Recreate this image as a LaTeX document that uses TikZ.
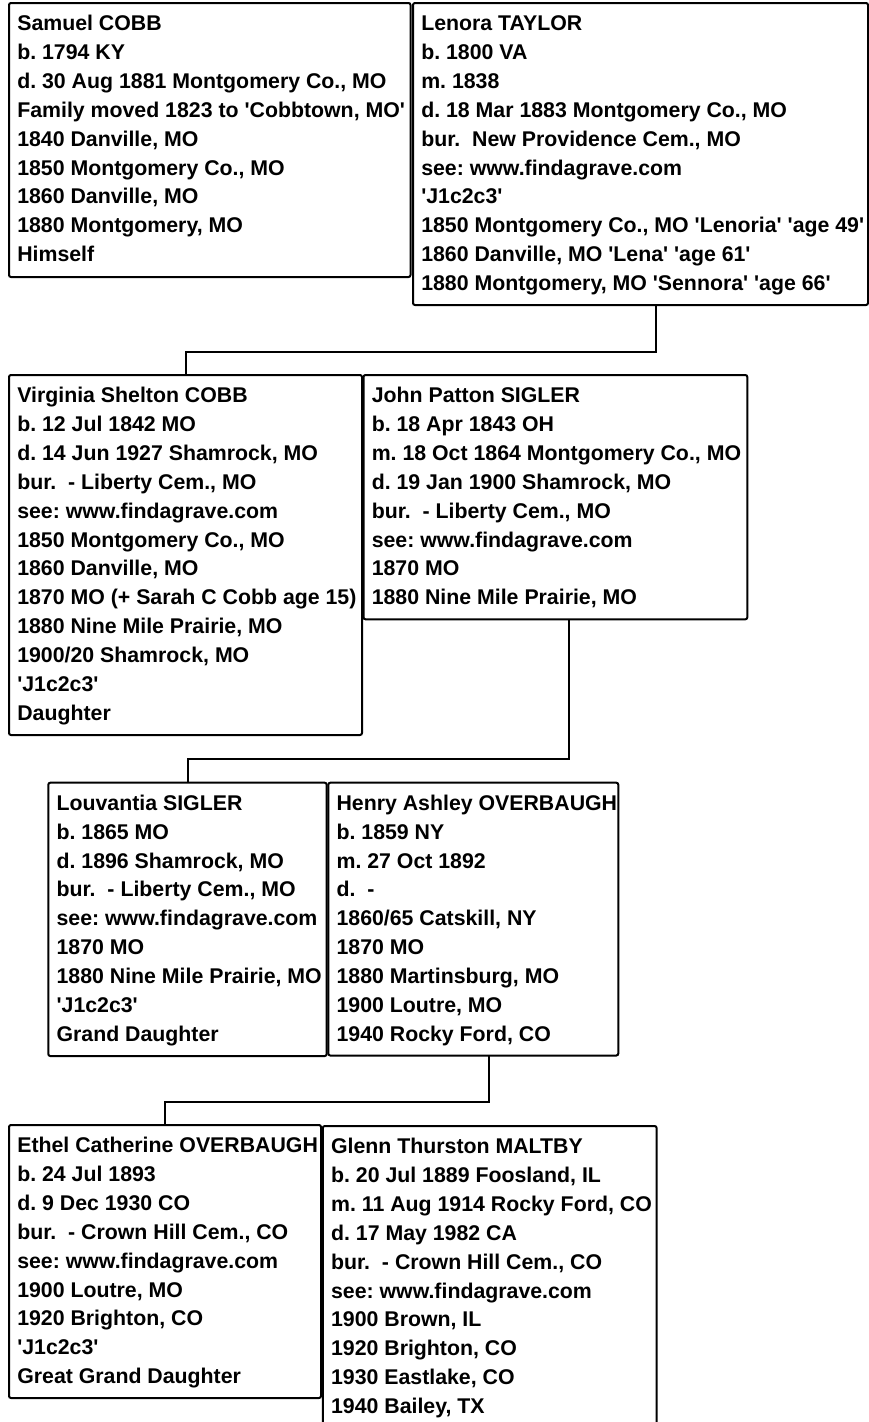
\documentclass[tikz,border=0pt]{standalone}
\usepackage{fontspec}
\setmainfont{Liberation Sans}[Ligatures=TeXOff]
\tikzset{
  cardbox/.style={draw=black, line width=2pt, rounded corners=2pt, anchor=north west,
    inner sep=0pt, outer sep=0pt, fill=white},
  cardtext/.style={anchor=base west, inner sep=0pt, outer sep=0pt, text=black,
    font=\bfseries\fontsize{21.3}{28.9}\selectfont\frenchspacing},
  link/.style={draw=black, line width=2pt}
}
\newcommand\famcard[6]{%
  \node[cardbox, minimum width=#4pt, minimum height=#5pt] (#1) at (#2,#3) {};
  \node[cardtext] (#1T) at ([xshift=8.3pt,yshift=-27.5pt]#1.north west) {\parbox[t]{470pt}{#6}};
}
\begin{document}
\begin{tikzpicture}[x=1pt,y=-1pt]
\useasboundingbox[fill=white] (0,0) rectangle (869,1422);
\clip (0,0) rectangle (869,1422);

\famcard{samuel}{9}{3}{401.5}{274}{Samuel COBB\\
b. 1794 KY\\
d. 30 Aug 1881 Montgomery Co., MO\\
Family moved 1823 to 'Cobbtown, MO'\\
1840 Danville, MO\\
1850 Montgomery Co., MO\\
1860 Danville, MO\\
1880 Montgomery, MO\\
Himself}

\famcard{lenora}{413}{3}{455}{302}{Lenora TAYLOR\\
b. 1800 VA\\
m. 1838\\
d. 18 Mar 1883 Montgomery Co., MO\\
bur.\ \ New Providence Cem., MO\\
see: www.findagrave.com\\
'J1c2c3'\\
1850 Montgomery Co., MO 'Lenoria' 'age 49'\\
1860 Danville, MO 'Lena' 'age 61'\\
1880 Montgomery, MO 'Sennora' 'age 66'}

\famcard{virginia}{9}{375}{353}{360}{Virginia Shelton COBB\\
b. 12 Jul 1842 MO\\
d. 14 Jun 1927 Shamrock, MO\\
bur.\ \ - Liberty Cem., MO\\
see: www.findagrave.com\\
1850 Montgomery Co., MO\\
1860 Danville, MO\\
1870 MO (+ Sarah C Cobb age 15)\\
1880 Nine Mile Prairie, MO\\
1900/20 Shamrock, MO\\
'J1c2c3'\\
Daughter}

\famcard{john}{363.5}{375}{383.8}{244.3}{John Patton SIGLER\\
b. 18 Apr 1843 OH\\
m. 18 Oct 1864 Montgomery Co., MO\\
d. 19 Jan 1900 Shamrock, MO\\
bur.\ \ - Liberty Cem., MO\\
see: www.findagrave.com\\
1870 MO\\
1880 Nine Mile Prairie, MO}

\famcard{louvantia}{48.3}{782.7}{278.4}{273.3}{Louvantia SIGLER\\
b. 1865 MO\\
d. 1896 Shamrock, MO\\
bur.\ \ - Liberty Cem., MO\\
see: www.findagrave.com\\
1870 MO\\
1880 Nine Mile Prairie, MO\\
'J1c2c3'\\
Grand Daughter}

\famcard{henry}{328.3}{782.7}{290}{272.8}{Henry Ashley OVERBAUGH\\
b. 1859 NY\\
m. 27 Oct 1892\\
d.\ \ -\\
1860/65 Catskill, NY\\
1870 MO\\
1880 Martinsburg, MO\\
1900 Loutre, MO\\
1940 Rocky Ford, CO}

\famcard{ethel}{9}{1125}{312}{273}{Ethel Catherine OVERBAUGH\\
b. 24 Jul 1893\\
d. 9 Dec 1930 CO\\
bur.\ \ - Crown Hill Cem., CO\\
see: www.findagrave.com\\
1900 Loutre, MO\\
1920 Brighton, CO\\
'J1c2c3'\\
Great Grand Daughter}

\famcard{glenn}{322.8}{1126}{333.8}{330}{Glenn Thurston MALTBY\\
b. 20 Jul 1889 Foosland, IL\\
m. 11 Aug 1914 Rocky Ford, CO\\
d. 17 May 1982 CA\\
bur.\ \ - Crown Hill Cem., CO\\
see: www.findagrave.com\\
1900 Brown, IL\\
1920 Brighton, CO\\
1930 Eastlake, CO\\
1940 Bailey, TX}

\coordinate (j1) at (655.7,351.7);
\coordinate (j2) at (569.3,759.3);
\coordinate (j3) at (489,1101.7);
\draw[link] (lenora.south -| j1) -- (j1) -| (virginia.north);
\draw[link] (john.south -| j2) -- (j2) -| (louvantia.north);
\draw[link] (henry.south -| j3) -- (j3) -| (ethel.north);
\end{tikzpicture}
\end{document}
